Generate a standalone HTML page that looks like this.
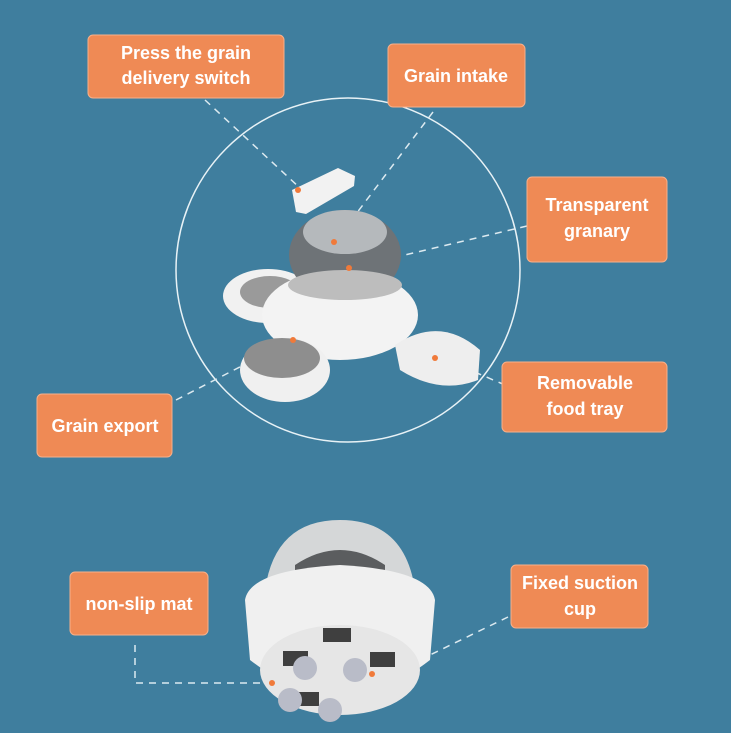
<!DOCTYPE html>
<html><head><style>
body{margin:0;background:#3f7e9e;}
svg{display:block}
text{font-family:"Liberation Sans",sans-serif;font-weight:bold;fill:#fff;font-size:18px;text-anchor:middle}
</style></head><body>
<svg width="731" height="733" viewBox="0 0 731 733">
<rect width="731" height="733" fill="#3f7e9e"/>
<circle cx="348" cy="270" r="172" fill="none" stroke="#e8f2f6" stroke-width="1.5"/>
<g stroke="#dceaf0" stroke-width="1.5" stroke-dasharray="7,6" fill="none">
<line x1="205" y1="100" x2="300" y2="188"/>
<line x1="433" y1="112" x2="350" y2="222"/>
<line x1="527" y1="226" x2="350" y2="268"/>
<line x1="176" y1="400" x2="292" y2="340"/>
<line x1="505" y1="385" x2="435" y2="355"/>
<polyline points="135,645 135,683 270,683"/>
<line x1="508" y1="617" x2="430" y2="655"/>
</g>
<!-- top device -->
<g>
<ellipse cx="268" cy="296" rx="45" ry="27" fill="#f1f1f1"/>
<ellipse cx="270" cy="292" rx="30" ry="16" fill="#9a9a9a"/>
<ellipse cx="340" cy="315" rx="78" ry="45" fill="#f3f3f3"/>
<ellipse cx="345" cy="255" rx="56" ry="45" fill="#6e7377"/>
<ellipse cx="345" cy="232" rx="42" ry="22" fill="#b5b9bc"/>
<ellipse cx="345" cy="285" rx="57" ry="15" fill="#bdbdbd"/>
<ellipse cx="285" cy="370" rx="45" ry="32" fill="#f0f0f0"/>
<ellipse cx="282" cy="358" rx="38" ry="20" fill="#8e8e8e"/>
<path d="M395 345 Q440 315 480 350 L478 380 Q440 395 400 370 Z" fill="#eeeeee"/>
<polygon points="292,190 338,168 355,176 354,186 306,214 296,212" fill="#f2f2f2"/>
</g>
<g fill="#f07a3a">
<circle cx="298" cy="190" r="3"/><circle cx="334" cy="242" r="3"/><circle cx="349" cy="268" r="3"/>
<circle cx="293" cy="340" r="3"/><circle cx="435" cy="358" r="3"/>
</g>
<!-- bottom device -->
<path d="M265 590 Q275 520 340 520 Q405 520 415 590 Z" fill="#d5d7d8"/>
<path d="M295 565 Q340 535 385 565 L385 590 L295 590 Z" fill="#5b5d5f"/>
<path d="M245 600 Q250 570 340 565 Q430 570 435 600 L430 660 Q340 730 250 660 Z" fill="#f0f0f0"/>
<ellipse cx="340" cy="670" rx="80" ry="45" fill="#e6e6e6"/>
<g fill="#3f3f3f"><rect x="283" y="651" width="25" height="15"/><rect x="370" y="652" width="25" height="15"/><rect x="323" y="628" width="28" height="14"/><rect x="291" y="692" width="28" height="14"/></g>
<g fill="#b9bcc8"><circle cx="305" cy="668" r="12"/><circle cx="355" cy="670" r="12"/><circle cx="290" cy="700" r="12"/><circle cx="330" cy="710" r="12"/></g>
<circle cx="272" cy="683" r="3" fill="#f07a3a"/><circle cx="372" cy="674" r="3" fill="#f07a3a"/>
<!-- labels -->
<g fill="#ef8a55" stroke="#f7b08a" stroke-width="1">
<rect x="88" y="35" width="196" height="63" rx="5"/>
<rect x="388" y="44" width="137" height="63" rx="5"/>
<rect x="527" y="177" width="140" height="85" rx="5"/>
<rect x="37" y="394" width="135" height="63" rx="5"/>
<rect x="502" y="362" width="165" height="70" rx="5"/>
<rect x="70" y="572" width="138" height="63" rx="5"/>
<rect x="511" y="565" width="137" height="63" rx="5"/>
</g>
<text x="186" y="59">Press the grain</text><text x="186" y="84">delivery switch</text>
<text x="456" y="82">Grain intake</text>
<text x="597" y="211">Transparent</text><text x="597" y="237">granary</text>
<text x="105" y="432">Grain export</text>
<text x="585" y="389">Removable</text><text x="585" y="415">food tray</text>
<text x="139" y="610">non-slip mat</text>
<text x="580" y="589">Fixed suction</text><text x="580" y="615">cup</text>
</svg>
</body></html>
